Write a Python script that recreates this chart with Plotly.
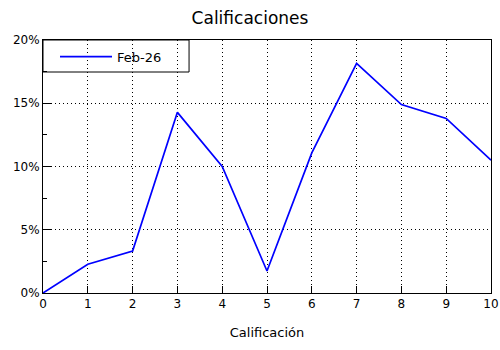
import plotly.graph_objects as go

calificacion = [0, 1, 2, 3, 4, 5, 6, 7, 8, 9, 10]
feb26 = [0.0, 2.27, 3.32, 14.28, 10.0, 1.74, 11.07, 18.16, 14.9, 13.8, 10.5]
serie_nombre = "Feb-26"
titulo = "Calificaciones"
eje_x = "Calificación"

FONT = "DejaVu Sans"

fig = go.Figure()
fig.add_trace(go.Scatter(
    x=calificacion, y=feb26, mode="lines", name=serie_nombre,
    line=dict(color="#0000FF", width=1.7),
))

# legend frame (decoration, paper coordinates)
fig.add_shape(type="rect", xref="paper", yref="paper",
              x0=0, x1=0.326, y0=0.8735, y1=1,
              line=dict(color="black", width=1), fillcolor="white",
              layer="between")

fig.update_layout(
    width=500, height=350,
    margin=dict(l=43, r=9, t=40, b=57),
    paper_bgcolor="white", plot_bgcolor="white",
    font=dict(family=FONT, size=12, color="black"),
    title=dict(text=titulo, x=0.5, xref="container", xanchor="center",
               y=1, yref="container", yanchor="top", pad=dict(t=12),
               font=dict(family=FONT, size=17, color="black")),
    showlegend=True,
    legend=dict(x=0.0268, y=0.934, xanchor="left", yanchor="middle",
                bgcolor="rgba(0,0,0,0)", borderwidth=0,
                font=dict(family=FONT, size=13, color="black"),
                itemwidth=52),
    xaxis=dict(range=[0, 10], dtick=1, tick0=0, automargin=False,
               showline=True, linecolor="black", linewidth=1, mirror=True,
               ticks="inside", ticklen=7, tickcolor="black",
               showgrid=True, gridcolor="black", gridwidth=1, griddash="1px,3px",
               zeroline=False,
               title=dict(text=eje_x, standoff=17, font=dict(family=FONT, size=13))),
    yaxis=dict(range=[0, 20], dtick=5, tick0=0, ticksuffix="%", automargin=False,
               showline=True, linecolor="black", linewidth=1, mirror=True,
               ticks="inside", ticklen=8, tickcolor="black",
               minor=dict(dtick=2.5, ticks="inside", ticklen=4, tickcolor="black", showgrid=False),
               showgrid=True, gridcolor="black", gridwidth=1, griddash="1px,3px",
               zeroline=False),
)

fig.write_html("out.html")
